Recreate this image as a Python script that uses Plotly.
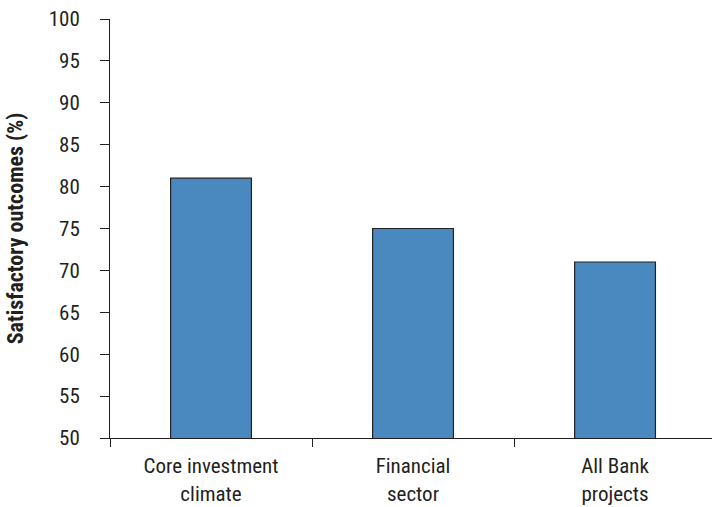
import plotly.graph_objects as go

categories = ["Core investment<br>climate", "Financial<br>sector", "All Bank<br>projects"]
values = [81, 75, 71]
y_ticks = [50, 55, 60, 65, 70, 75, 80, 85, 90, 95, 100]

font_family = "Liberation Sans Narrow, Roboto Condensed, Roboto, sans-serif"

fig = go.Figure(go.Bar(
    x=categories, y=values,
    width=0.4,
    marker=dict(color="#4a89bf", line=dict(color="#222222", width=1.2)),
))

fig.update_layout(
    width=712, height=507,
    margin=dict(l=110, r=0, t=19, b=69),
    paper_bgcolor="white", plot_bgcolor="white",
    font=dict(family=font_family, size=21, color="#231f20"),
    showlegend=False,
)
fig.update_xaxes(
    range=[-0.5, 2.48],
    showline=True, linecolor="#231f20", linewidth=1,
    ticks="outside", tickson="boundaries", ticklen=8, tickcolor="#231f20",
    showgrid=False, tickfont=dict(size=21), ticklabelstandoff=9,
)
fig.update_yaxes(
    range=[50, 100], tickvals=y_ticks,
    showline=True, linecolor="#231f20", linewidth=1,
    ticks="outside", ticklen=9, tickcolor="#231f20",
    showgrid=False, zeroline=False, tickfont=dict(size=21), ticklabelstandoff=16,
    title=dict(text="<b>Satisfactory outcomes (%)</b>", font=dict(size=22), standoff=18),
)

fig.write_html("out.html")
